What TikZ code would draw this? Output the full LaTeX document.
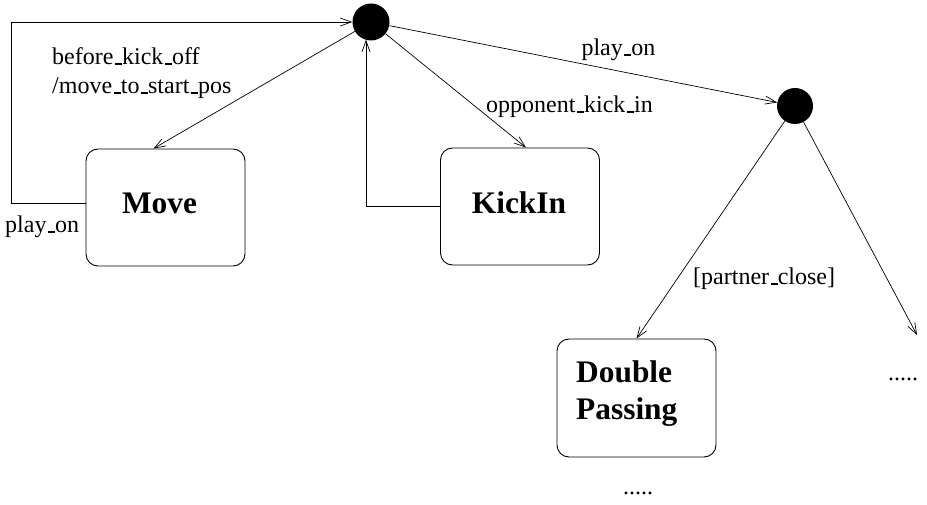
\documentclass[tikz,border=0pt]{standalone}
\usepackage{fontspec}
\setmainfont{Liberation Serif}
\usetikzlibrary{arrows.meta,calc}
\newcommand\us{\leavevmode\kern.06em\vbox{\hrule width.3em height .1em}}
\begin{document}
\begin{tikzpicture}[x=1pt,y=1pt,
  every node/.style={inner sep=0pt},
  lbl/.style={font=\fontsize{24}{29}\selectfont},
  statebox/.style={draw, rounded corners=12pt, minimum width=159pt, minimum height=117pt, line width=0.9pt},
  sname/.style={font=\fontsize{31.4}{37}\selectfont\bfseries},
  junc/.style={circle, fill=black, minimum size=37pt},
  arr/.style={line width=0.7pt, -{Straight Barb[length=11pt,width=8pt]}}]
\useasboundingbox (0,0) rectangle (927,504);
% junctions
\node[junc] (T) at (371,482) {};
\node[junc, minimum size=36pt] (R) at (795,398) {};
% states
\node[statebox] (move) at (165.5,296.5) {};
\node[sname] (movetext) at (159.5,301) {Move};
\node[statebox] (kickin) at (520,297.5) {};
\node[sname] (kickintext) at (519,301) {KickIn};
\node[statebox, minimum height=118pt] (dp) at (636.5,106) {};
\node[sname, align=left, anchor=west] (dptext) at (576,110) {Double\\Passing};
% labels
\node[lbl, anchor=base west, align=left] (bko) at (52,410) {before\us kick\us off\\/move\us to\us start\us pos};
\node[lbl, anchor=base west] (pon1) at (5,271) {play\us on};
\node[lbl, anchor=base] (pon2) at (618.5,448) {play\us on};
\node[lbl, anchor=base] (oki) at (569.5,391) {opponent\us kick\us in};
\node[lbl, anchor=base west] (pc) at (693,219) {[partner\us close]};
\node[lbl, anchor=base] (dots1) at (903,124) {.....};
\node[lbl, anchor=base] (dots2) at (638,10) {.....};
% connectors
\coordinate (moveIn) at ($(move.north west)+(68,0)$);
\draw[arr] (T) -- (moveIn);
\draw[arr] ($(move.west)+(0,4.5)$) -- ++(-74,0) |- (T.west);
\draw[arr] (kickin.west) -| ($(T.center)+(-5,-17.8)$);
\draw[arr] (T) -- ($(kickin.north)+(6,0)$);
\draw[arr] (T) -- (R);
\draw[arr] (R) -- (dp.north);
\coordinate (more) at (917,169);
\draw[arr] (R) -- (more);
\end{tikzpicture}
\end{document}
